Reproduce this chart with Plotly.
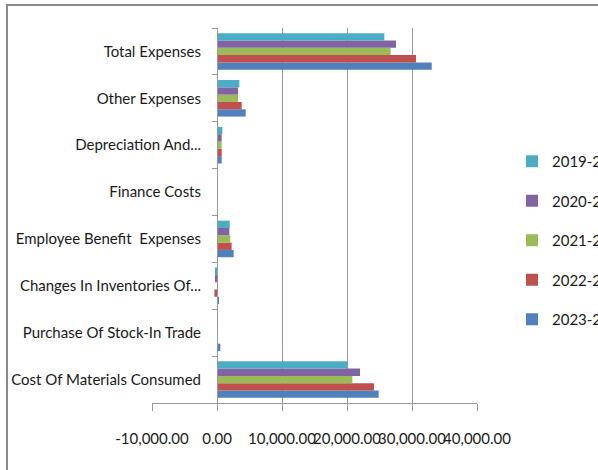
import plotly.graph_objects as go

categories = [
    "Cost Of Materials Consumed",
    "Purchase Of Stock-In Trade",
    "Changes In Inventories Of...",
    "Employee Benefit  Expenses",
    "Finance Costs",
    "Depreciation And...",
    "Other Expenses",
    "Total Expenses",
]

years = ["2023-24", "2022-23", "2021-22", "2020-21", "2019-20"]
colors = ["#4F81BD", "#C0504D", "#9BBB59", "#8064A2", "#4BACC6"]

v_2019_20 = [20000, 0, -300, 1950, 0, 820, 3440, 25740]
v_2020_21 = [22000, 0, -300, 1900, 0, 720, 3230, 27540]
v_2021_22 = [20820, 0, 0, 2050, 0, 720, 3230, 26720]
v_2022_23 = [24150, 0, -400, 2250, 0, 720, 3800, 30620]
v_2023_24 = [24870, 510, 260, 2560, 0, 720, 4410, 33030]

series = [v_2023_24, v_2022_23, v_2021_22, v_2020_21, v_2019_20]

x_tickvals = [-10000, 0, 10000, 20000, 30000, 40000]
x_ticktext = ["-10,000.00", "0.00", "10,000.00", "20,000.00", "30,000.00", "40,000.00"]

FONT = "Lato, sans-serif"

fig = go.Figure()
for i, (name, vals, col) in enumerate(zip(years, series, colors)):
    fig.add_trace(go.Bar(
        y=categories, x=vals, name=name, orientation="h",
        marker=dict(color=col, line=dict(width=0)),
        legendgroup=name, legendrank=len(years) - i,
    ))

W, H = 598, 470
ml, mr, mt, mb = 152, 598 - 477, 28, 470 - 403
pw = W - ml - mr
ph = H - mt - mb

def px_x(px):
    return (px - ml) / pw

def px_y(py):
    return (H - mb - py) / ph

fig.update_layout(
    width=W, height=H,
    margin=dict(l=ml, r=mr, t=mt, b=mb, pad=0, autoexpand=False),
    paper_bgcolor="white", plot_bgcolor="white",
    barmode="group", bargap=0.22, bargroupgap=0,
    font=dict(family=FONT, size=15, color="#1a1a1a"),
    xaxis=dict(
        range=[-10000, 40000],
        tickmode="array", tickvals=x_tickvals, ticktext=x_ticktext,
        tickangle=0, automargin=False,
        showgrid=True, gridcolor="#999999", gridwidth=1,
        zeroline=False,
        showline=True, linecolor="#999999", linewidth=1,
        ticks="outside", ticklen=7, tickcolor="#999999",
        ticklabelstandoff=15,
        tickfont=dict(family=FONT, size=15, color="#1a1a1a"),
    ),
    yaxis=dict(
        anchor="free", position=px_x(217), automargin=False,
        showgrid=False, zeroline=False,
        showline=True, linecolor="#999999", linewidth=1,
        ticks="outside", ticklen=5, tickcolor="#999999",
        tickson="boundaries",
        ticklabelstandoff=13,
        tickfont=dict(family=FONT, size=15, color="#1a1a1a"),
    ),
    showlegend=True,
    legend=dict(
        x=px_x(512), y=px_y(145), xanchor="left", yanchor="top",
        traceorder="grouped", tracegroupgap=17,
        font=dict(family=FONT, size=15, color="#1a1a1a"),
        bgcolor="rgba(0,0,0,0)",
    ),
    shapes=[dict(
        type="rect", xref="paper", yref="paper",
        x0=px_x(7), x1=px_x(700), y0=px_y(520), y1=px_y(5),
        line=dict(color="#8A8A8A", width=2), fillcolor="rgba(0,0,0,0)",
        layer="below",
    )],
)

fig.write_html("out.html")
